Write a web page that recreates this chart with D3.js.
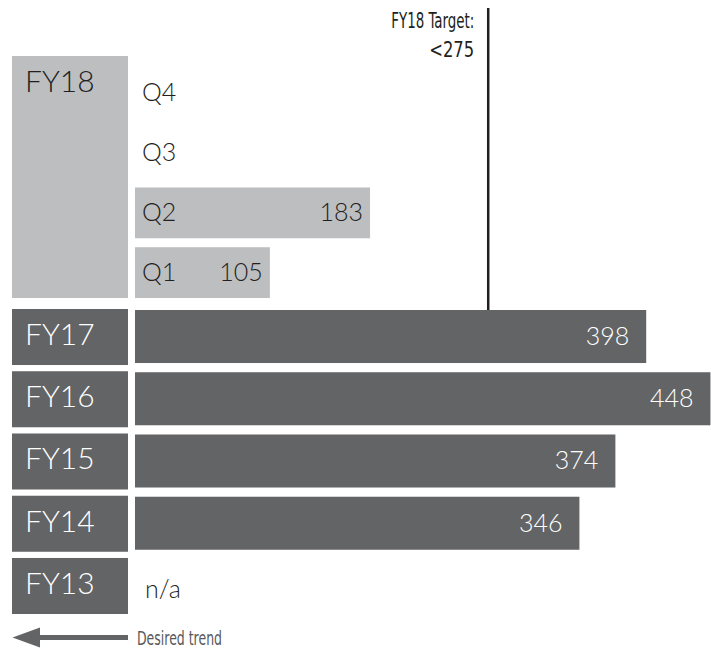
<!DOCTYPE html>
<html>
<head>
<meta charset="utf-8">
<script src="https://cdn.jsdelivr.net/npm/d3@7"></script>
<style>
  html, body { margin: 0; padding: 0; background: #fff; }
  svg { display: block; }
  .main { font-family: Lato, "Open Sans", sans-serif; font-weight: 300; }
  .narrow { font-family: "Liberation Sans Narrow", "DejaVu Sans Condensed", "Liberation Sans", sans-serif; font-stretch: condensed; }
</style>
</head>
<body>
<svg id="chart" width="711" height="652"></svg>
<script>
// Fiscal-year totals (FY13 has no data)
const years = ["FY17", "FY16", "FY15", "FY14", "FY13"];
const yearValues = [398, 448, 374, 346, null];

// Current-year quarters, top to bottom (Q3 and Q4 not reported yet)
const quarters = ["Q4", "Q3", "Q2", "Q1"];
const quarterValues = [null, null, 183, 105];

const currentYear = "FY18";
const target = 275;
const targetLabel = ["FY18 Target:", "<275"];
const trendLabel = "Desired trend";

const DARK = "#636466";
const LIGHT = "#bcbec0";
const INK = "#231f20";

const svg = d3.select("#chart");

const x = d3.scaleLinear().domain([0, 450]).range([135, 713]);

const yYear = d3.scaleBand().domain(years).range([309, 614]).paddingInner(0.1);
const yQuarter = d3.scaleBand().domain(quarters).range([68, 298]).paddingInner(0.15);

const labelX0 = 12, labelX1 = 128;

// Current-year label block spanning all quarter rows
svg.append("rect")
  .attr("x", labelX0).attr("y", 56)
  .attr("width", labelX1 - labelX0).attr("height", 298 - 56)
  .attr("fill", LIGHT);
svg.append("text").attr("class", "main")
  .attr("x", 25).attr("y", 92)
  .attr("font-size", 30).attr("fill", INK)
  .text(currentYear);

// Quarter bars
const qRows = svg.append("g").selectAll("g")
  .data(quarters.map((q, i) => ({ q, v: quarterValues[i] })))
  .join("g");

qRows.filter(d => d.v != null).append("rect")
  .attr("x", x(0))
  .attr("y", d => yQuarter(d.q))
  .attr("width", d => x(d.v) - x(0))
  .attr("height", yQuarter.bandwidth())
  .attr("fill", LIGHT);

qRows.append("text").attr("class", "main")
  .attr("x", 142)
  .attr("y", d => yQuarter(d.q) + yQuarter.bandwidth() / 2 + 8)
  .attr("font-size", 25).attr("fill", INK)
  .text(d => d.q);

qRows.filter(d => d.v != null).append("text").attr("class", "main")
  .attr("x", d => x(d.v) - 7)
  .attr("y", d => yQuarter(d.q) + yQuarter.bandwidth() / 2 + 8)
  .attr("text-anchor", "end")
  .attr("font-size", 25).attr("fill", INK)
  .text(d => d.v);

// Prior-year rows
const yRows = svg.append("g").selectAll("g")
  .data(years.map((y, i) => ({ y, v: yearValues[i] })))
  .join("g");

yRows.append("rect")
  .attr("x", labelX0)
  .attr("y", d => yYear(d.y))
  .attr("width", labelX1 - labelX0)
  .attr("height", yYear.bandwidth())
  .attr("fill", DARK);

yRows.append("text").attr("class", "main")
  .attr("x", 25)
  .attr("y", d => yYear(d.y) + 36)
  .attr("font-size", 30).attr("fill", "#fff")
  .text(d => d.y);

yRows.filter(d => d.v != null).append("rect")
  .attr("x", x(0))
  .attr("y", d => yYear(d.y) + 1)
  .attr("width", d => x(d.v) - x(0))
  .attr("height", yYear.bandwidth() - 3)
  .attr("fill", DARK);

yRows.filter(d => d.v != null).append("text").attr("class", "main")
  .attr("x", d => x(d.v) - 17)
  .attr("y", d => yYear(d.y) + 36)
  .attr("text-anchor", "end")
  .attr("font-size", 25).attr("fill", "#fff")
  .text(d => d.v);

yRows.filter(d => d.v == null).append("text").attr("class", "main")
  .attr("x", 145)
  .attr("y", d => yYear(d.y) + 40)
  .attr("font-size", 25).attr("fill", INK)
  .text("n/a");

// Target line
svg.append("line")
  .attr("x1", x(target)).attr("x2", x(target))
  .attr("y1", 8).attr("y2", yYear(years[0]) + 1)
  .attr("stroke", INK).attr("stroke-width", 2.5);

svg.append("text").attr("class", "narrow")
  .attr("x", x(target) - 14).attr("y", 28)
  .attr("text-anchor", "end")
  .attr("font-size", 21).attr("fill", INK)
  .attr("textLength", 83).attr("lengthAdjust", "spacingAndGlyphs")
  .text(targetLabel[0]);
svg.append("text").attr("class", "narrow")
  .attr("x", x(target) - 14).attr("y", 57)
  .attr("text-anchor", "end")
  .attr("font-size", 22).attr("fill", INK)
  .attr("textLength", 45).attr("lengthAdjust", "spacingAndGlyphs")
  .text(targetLabel[1]);

// Trend arrow pointing left
const arrowY = 637.5;
svg.append("line")
  .attr("x1", 38).attr("x2", 128)
  .attr("y1", arrowY).attr("y2", arrowY)
  .attr("stroke", DARK).attr("stroke-width", 5);
svg.append("path")
  .attr("d", `M12.5,${arrowY} L40,${arrowY - 10} L40,${arrowY + 10} Z`)
  .attr("fill", DARK);
svg.append("text").attr("class", "narrow")
  .attr("x", 137).attr("y", 645)
  .attr("font-size", 20).attr("fill", "#58595b")
  .attr("textLength", 85).attr("lengthAdjust", "spacingAndGlyphs")
  .text(trendLabel);
</script>
</body>
</html>
